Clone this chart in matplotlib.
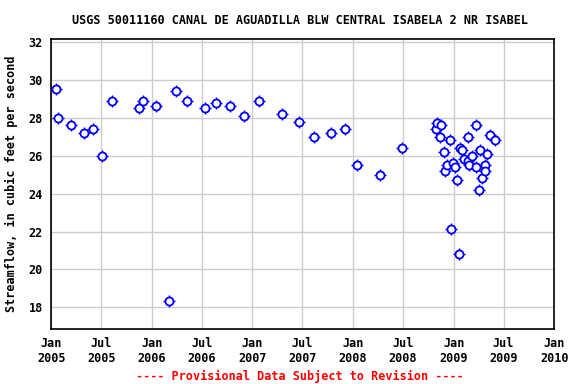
import matplotlib
matplotlib.use("Agg")
import matplotlib.pyplot as plt
import matplotlib.dates as mdates
from datetime import datetime

dates = [
    "2005-01-19", "2005-01-27", "2005-03-15", "2005-04-28", "2005-06-01",
    "2005-07-03", "2005-08-10", "2005-11-16", "2005-12-01", "2006-01-15",
    "2006-03-03", "2006-03-31", "2006-05-08", "2006-07-13", "2006-08-23",
    "2006-10-12", "2006-11-30", "2007-01-24", "2007-04-19", "2007-06-20",
    "2007-08-14", "2007-10-12", "2007-12-02", "2008-01-15", "2008-04-09",
    "2008-06-26",
    "2008-10-29", "2008-11-02", "2008-11-13", "2008-11-17", "2008-11-28",
    "2008-12-01", "2008-12-09", "2008-12-19", "2008-12-23", "2008-12-30",
    "2009-01-07", "2009-01-14", "2009-01-21", "2009-01-25", "2009-02-01",
    "2009-02-09", "2009-02-20", "2009-02-23", "2009-02-27", "2009-03-10",
    "2009-03-21", "2009-03-24", "2009-04-01", "2009-04-08", "2009-04-15",
    "2009-04-23", "2009-04-23", "2009-05-03", "2009-05-11", "2009-05-29",
]
flow = [
    29.53, 28.00, 27.63, 27.21, 27.42,
    26.00, 28.90, 28.53, 28.90, 28.63,
    18.32, 29.42, 28.90, 28.53, 28.79,
    28.63, 28.11, 28.88, 28.21, 27.79,
    26.98, 27.19, 27.40, 25.50, 24.97,
    26.40,
    27.40, 27.75, 27.00, 27.63, 26.19,
    25.20, 25.52, 26.82, 22.12, 25.64,
    25.40, 24.73, 20.82, 26.43, 26.31,
    25.82, 27.00, 25.73, 25.52, 25.99,
    27.63, 25.41, 24.20, 26.31, 24.82,
    25.52, 25.20, 26.10, 27.10, 26.82,
]

ytick_vals = [18, 20, 22, 24, 26, 28, 30, 32]
title = "USGS 50011160 CANAL DE AGUADILLA BLW CENTRAL ISABELA 2 NR ISABEL"

x = [datetime.strptime(d, "%Y-%m-%d") for d in dates]

font = "DejaVu Sans Mono"
fig = plt.figure(figsize=(5.76, 3.84), dpi=100)
ax = fig.add_axes([51.3 / 576, 1 - 329 / 384, 503 / 576, 289.7 / 384])

# USGS-style marker: open circle with little tick marks
ax.scatter(x, flow, marker="+", s=66, color="blue", linewidths=1.0, zorder=3)
ax.scatter(x, flow, marker="o", s=34, facecolors="white", edgecolors="blue",
           linewidths=1.3, zorder=4)

ax.set_xlim(datetime(2005, 1, 1), datetime(2010, 1, 1))
ax.set_ylim(16.85, 32.16)

ax.xaxis.set_major_locator(mdates.MonthLocator(bymonth=[1, 7]))
ax.xaxis.set_major_formatter(mdates.DateFormatter("%b\n%Y"))
ax.set_yticks(ytick_vals)

ax.grid(True, color="#cccccc", linewidth=1)
ax.set_axisbelow(True)
ax.tick_params(length=0, pad=6)
for lab in ax.get_xticklabels() + ax.get_yticklabels():
    lab.set_fontfamily(font)
    lab.set_fontweight("bold")
    lab.set_fontsize(8.5)
for s in ax.spines.values():
    s.set_linewidth(1.2)

ax.set_ylabel("Streamflow, in cubic feet per second", fontfamily=font,
              fontweight="bold", fontsize=8.5, labelpad=8)
fig.text(0.5 + 12 / 576, 1 - 20 / 384, title, ha="center", va="center",
         fontfamily=font, fontweight="bold", fontsize=8.5)
fig.text(0.5 + 12 / 576, 1 - 376 / 384, "---- Provisional Data Subject to Revision ----",
         ha="center", va="center", color="red", fontfamily=font,
         fontweight="bold", fontsize=8.5)

fig.savefig("out.png", dpi=100)
